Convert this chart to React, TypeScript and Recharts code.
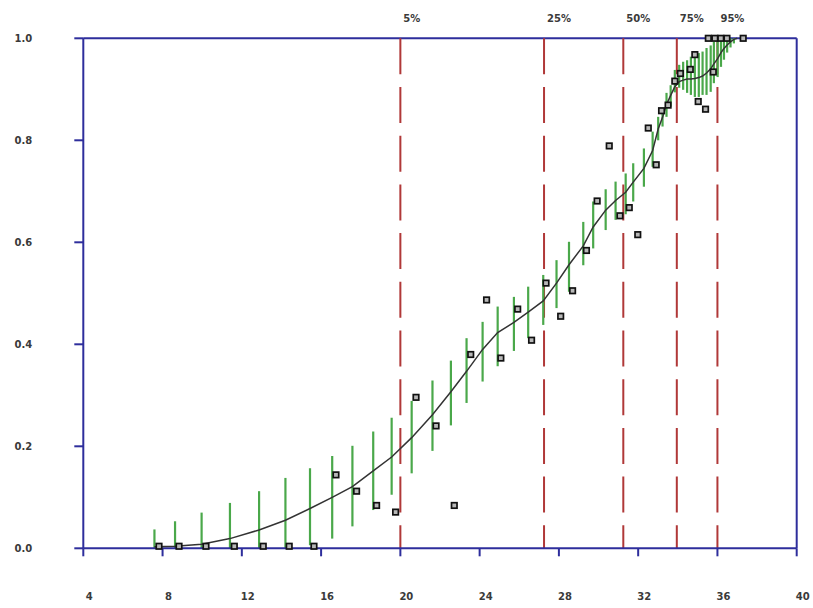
import React from 'react';
import { ComposedChart, Scatter, XAxis, YAxis, ReferenceLine, ErrorBar } from 'recharts';

// ---------- data ----------
const xTicks = [4, 8, 12, 16, 20, 24, 28, 32, 36, 40];
const yTicks = [0, 0.2, 0.4, 0.6, 0.8, 1.0];

const quantileX = [20.0, 27.25, 31.25, 33.95, 36.0];
const quantileLabels = ['5%', '25%', '50%', '75%', '95%'];

// confidence band positions / bounds / fitted curve
const bandX = [7.59, 8.63, 9.97, 11.4, 12.87, 14.2, 15.44, 16.56, 17.58, 18.63, 19.56, 20.57, 21.62, 22.55, 23.34, 24.15, 24.91, 25.73, 26.45, 27.21, 27.88, 28.51, 29.23, 29.73, 30.36, 30.86, 31.37, 31.75, 32.29, 32.73, 33.01, 33.23, 33.43, 33.64, 33.85, 34.07, 34.27, 34.47, 34.66, 34.86, 35.06, 35.25, 35.45, 35.66, 35.82, 36.01, 36.18, 36.33, 36.49, 36.66, 36.83];
const bandLow = [0, 0, 0, 0, 0, 0, 0.006, 0.019, 0.043, 0.075, 0.105, 0.147, 0.191, 0.241, 0.285, 0.327, 0.357, 0.387, 0.412, 0.438, 0.471, 0.503, 0.555, 0.588, 0.624, 0.644, 0.655, 0.68, 0.709, 0.748, 0.8, 0.827, 0.846, 0.866, 0.894, 0.903, 0.899, 0.893, 0.889, 0.885, 0.885, 0.889, 0.889, 0.895, 0.912, 0.924, 0.944, 0.958, 0.972, 0.982, 0.99];
const bandHigh = [0.037, 0.053, 0.07, 0.089, 0.112, 0.138, 0.157, 0.181, 0.201, 0.229, 0.256, 0.289, 0.329, 0.368, 0.412, 0.444, 0.474, 0.493, 0.513, 0.536, 0.565, 0.601, 0.64, 0.68, 0.704, 0.719, 0.735, 0.755, 0.784, 0.817, 0.846, 0.863, 0.893, 0.908, 0.938, 0.948, 0.954, 0.957, 0.964, 0.967, 0.971, 0.974, 0.981, 0.986, 0.993, 0.996, 1.0, 1.0, 1.0, 1.0, 1.0];
const fitValues = [0.003, 0.004, 0.008, 0.019, 0.036, 0.055, 0.078, 0.1, 0.121, 0.152, 0.179, 0.217, 0.262, 0.307, 0.347, 0.39, 0.423, 0.443, 0.463, 0.485, 0.52, 0.556, 0.593, 0.63, 0.663, 0.682, 0.698, 0.718, 0.745, 0.78, 0.822, 0.845, 0.87, 0.888, 0.905, 0.915, 0.918, 0.92, 0.92, 0.921, 0.923, 0.926, 0.932, 0.94, 0.95, 0.96, 0.972, 0.98, 0.987, 0.993, 0.998];
const fitEndX = 37.0;
const fitEndY = 1.0;

// observed points
const obsX = [7.82, 8.83, 10.19, 11.62, 13.08, 14.39, 15.64, 16.75, 17.79, 18.8, 19.76, 20.79, 21.8, 22.72, 23.55, 24.35, 25.07, 25.92, 26.62, 27.35, 28.09, 28.69, 29.39, 29.93, 30.54, 31.08, 31.55, 31.98, 32.51, 32.91, 33.18, 33.51, 33.85, 34.13, 34.63, 34.86, 35.03, 35.4, 35.79, 35.54, 35.87, 36.17, 36.48, 37.3];
const obsY = [0.004, 0.004, 0.004, 0.004, 0.004, 0.004, 0.004, 0.144, 0.112, 0.084, 0.071, 0.296, 0.24, 0.084, 0.38, 0.487, 0.373, 0.469, 0.408, 0.52, 0.455, 0.505, 0.584, 0.681, 0.789, 0.652, 0.668, 0.615, 0.824, 0.752, 0.858, 0.869, 0.916, 0.931, 0.939, 0.968, 0.876, 0.861, 0.934, 1.0, 1.0, 1.0, 1.0, 1.0];

// ---------- derived tables ----------
const bandData = bandX.map((x, i) => ({
  x,
  y: fitValues[i],
  err: [fitValues[i] - bandLow[i], bandHigh[i] - fitValues[i]],
}));
const curveData = [...bandX.map((x, i) => ({ x, y: fitValues[i] })), { x: fitEndX, y: fitEndY }];
const obsData = obsX.map((x, i) => ({ x, y: obsY[i] }));

// ---------- styles ----------
const AXIS = '#2e2e9c';
const RED = '#b03838';
const GREEN = '#4aa84a';
const TEXT = '#3a3a3a';
const FONT = "'DejaVu Sans', sans-serif";

const BottomTick = (p: any) => (
  <text x={p.x + 6} y={p.y + 42} textAnchor="middle" fontFamily={FONT} fontWeight="bold" fontSize={10} fill={TEXT}>
    {String(p.payload.value)}
  </text>
);

const LeftTick = (p: any) => (
  <text x={p.x - 40} y={p.y} dy="0.35em" textAnchor="end" fontFamily={FONT} fontWeight="bold" fontSize={10} fill={TEXT}>
    {Number(p.payload.value).toFixed(1)}
  </text>
);

const makePctLabel = (text: string) => (p: any) => {
  const vb = p.viewBox || {};
  return (
    <text x={(vb.x ?? 0) + 3} y={(vb.y ?? 0) - 16} textAnchor="start" fontFamily={FONT} fontWeight="bold" fontSize={10} fill={TEXT}>
      {text}
    </text>
  );
};

const EmptyTick = () => <g />;
const NoShape = () => <g />;

const SquareShape = (p: any) => (
  <rect x={p.cx - 2.75} y={p.cy - 2.75} width={5.5} height={5.5} fill="#b8b8b8" stroke="#111" strokeWidth={1.7} />
);

export default function App() {
  return (
    <div style={{ position: 'absolute', left: 0, top: 0, width: 813, height: 608, background: '#fff' }}>
      <ComposedChart width={813} height={608} margin={{ top: 38.3, right: 0, bottom: 0, left: 23.3 }}>
        <XAxis
          dataKey="x"
          type="number"
          domain={[4, 40]}
          ticks={xTicks}
          interval={0}
          height={59.7}
          axisLine={{ stroke: AXIS, strokeWidth: 2 }}
          tickLine={{ stroke: AXIS, strokeWidth: 2 }}
          tickSize={8}
          tick={BottomTick}
        />
        <YAxis
          dataKey="y"
          type="number"
          domain={[0, 1]}
          ticks={yTicks}
          interval={0}
          width={60}
          axisLine={{ stroke: AXIS, strokeWidth: 2 }}
          tickLine={{ stroke: AXIS, strokeWidth: 2 }}
          tickSize={9}
          tick={LeftTick}
        />
        <YAxis
          yAxisId="right"
          orientation="right"
          type="number"
          domain={[0, 1]}
          ticks={yTicks}
          interval={0}
          width={16.3}
          axisLine={{ stroke: AXIS, strokeWidth: 2 }}
          tickLine={{ stroke: AXIS, strokeWidth: 2 }}
          tickSize={9}
          tick={EmptyTick}
        />
        <ReferenceLine y={1} stroke={AXIS} strokeWidth={2} />
        {quantileX.map((q, i) => (
          <ReferenceLine
            key={q}
            segment={[{ x: q, y: 1 }, { x: q, y: 0 }]}
            stroke={RED}
            strokeWidth={2}
            strokeDasharray="36 12.7"
            label={makePctLabel(quantileLabels[i])}
          />
        ))}
        <Scatter data={bandData} shape={NoShape} fill={GREEN} isAnimationActive={false}>
          <ErrorBar dataKey="err" direction="y" width={0} stroke={GREEN} strokeWidth={2.2} isAnimationActive={false} />
        </Scatter>
        <Scatter
          data={curveData}
          shape={NoShape}
          fill="#333"
          line={{ stroke: '#333', strokeWidth: 1.5 }}
          lineType="joint"
          isAnimationActive={false}
        />
        <Scatter data={obsData} shape={SquareShape} fill="#111" isAnimationActive={false} />
      </ComposedChart>
    </div>
  );
}
